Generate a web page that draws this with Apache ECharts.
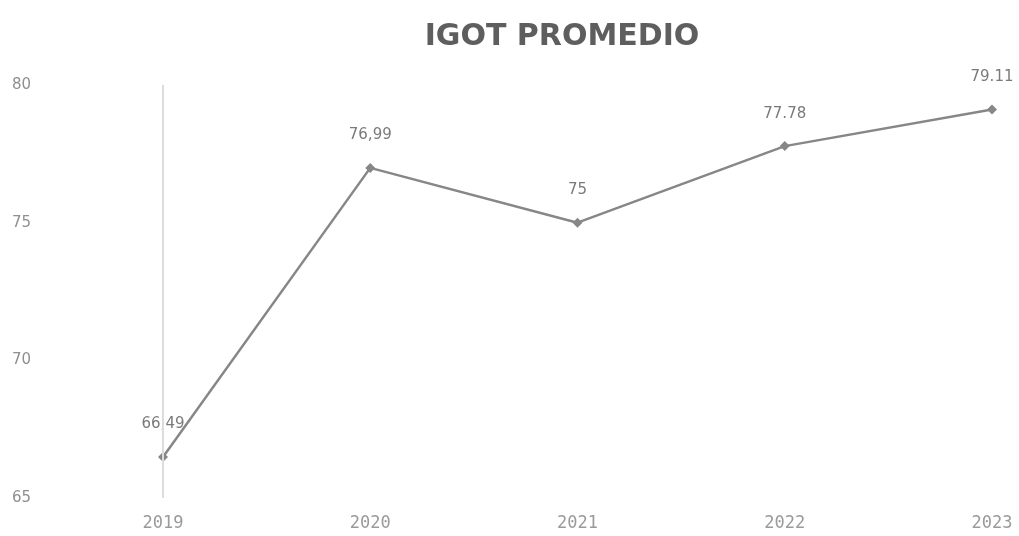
<!DOCTYPE html>
<html>
<head>
<meta charset="utf-8">
<title>IGOT PROMEDIO</title>
<script src="https://cdn.jsdelivr.net/npm/echarts@6/dist/echarts.min.js"></script>
<style>
  html, body { margin: 0; padding: 0; background: #ffffff; }
  #chart { width: 1019px; height: 536px; }
</style>
</head>
<body>
<div id="chart"></div>
<script>
// Yearly average IGOT score
const years = ['2019', '2020', '2021', '2022', '2023'];
const promedio = [66.49, 76.99, 75, 77.78, 79.11];
const valueLabels = ['66,49', '76,99', '75', '77.78', '79.11'];
const yTicks = [65, 70, 75, 80];

const chart = echarts.init(document.getElementById('chart'));

chart.setOption({
  backgroundColor: '#ffffff',
  animation: false,
  title: {
    text: 'IGOT PROMEDIO',
    left: 557,
    textAlign: 'center',
    top: 17,
    textStyle: {
      fontFamily: 'DejaVu Sans',
      fontWeight: 'bold',
      fontSize: 30,
      color: '#5e5e5e'
    }
  },
  grid: { left: 163, right: 27, top: 85, bottom: 38, containLabel: false },
  xAxis: {
    type: 'category',
    data: years,
    boundaryGap: false,
    axisLine: { show: false },
    axisTick: { show: false },
    splitLine: { show: false },
    axisLabel: {
      margin: 17,
      fontFamily: 'DejaVu Sans Mono',
      fontSize: 17,
      color: '#9a9a9a'
    }
  },
  yAxis: {
    type: 'value',
    min: yTicks[0],
    max: yTicks[yTicks.length - 1],
    interval: 5,
    axisLine: { show: false },
    axisTick: { show: false },
    splitLine: { show: false },
    axisLabel: {
      align: 'left',
      margin: 151,
      fontFamily: 'DejaVu Sans',
      fontSize: 15,
      color: '#8f8f8f'
    }
  },
  series: [{
    type: 'line',
    data: promedio,
    symbol: 'diamond',
    symbolSize: 10,
    lineStyle: { color: '#878787', width: 2.5 },
    itemStyle: { color: '#878787' },
    label: {
      show: true,
      position: 'top',
      distance: 20,
      fontFamily: 'DejaVu Sans',
      fontSize: 15,
      color: '#7a7a7a',
      formatter: p => valueLabels[p.dataIndex]
    },
    markLine: {
      silent: true,
      symbol: 'none',
      label: { show: false },
      lineStyle: { color: '#dcdcdc', width: 2, type: 'solid' },
      data: [{ xAxis: years[0] }]
    }
  }]
});
</script>
</body>
</html>
